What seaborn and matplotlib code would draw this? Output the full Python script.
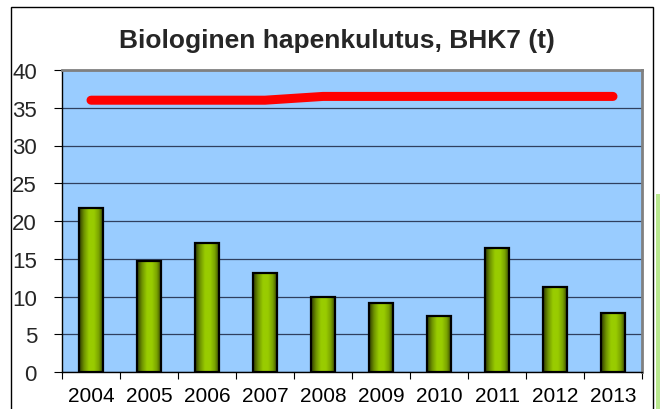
import matplotlib
matplotlib.use('Agg')
import matplotlib.pyplot as plt
import seaborn as sns
import numpy as np
import pandas as pd
from matplotlib.patches import Rectangle
from matplotlib.colors import LinearSegmentedColormap
from matplotlib.ticker import FixedLocator

# Data
years = ['2004', '2005', '2006', '2007', '2008', '2009', '2010', '2011', '2012', '2013']
bhk7 = [21.7, 14.7, 17.1, 13.1, 9.9, 9.2, 7.4, 16.4, 11.3, 7.8]
limit = [36.0, 36.0, 36.0, 36.0, 36.5, 36.5, 36.5, 36.5, 36.5, 36.5]
title = 'Biologinen hapenkulutus, BHK7 (t)'

df = pd.DataFrame({'year': years, 'bhk7': bhk7, 'limit': limit})

sns.set_style('white')
plt.rcParams['font.family'] = ['Liberation Sans', 'DejaVu Sans']

fig = plt.figure(figsize=(6.6, 4.1), dpi=100)
ax = fig.add_axes([62 / 660, 1 - 373 / 410, 580 / 660, 302 / 410])
ax.set_facecolor('#99ccff')

sns.barplot(data=df, x='year', y='bhk7', color='#99cc00', width=0.42,
            edgecolor='black', linewidth=1.6, ax=ax, zorder=3)

# shaded green fill for the bars
cmap = LinearSegmentedColormap.from_list(
    'barshade', ['#2e3a00', '#6f9400', '#99cc00', '#99cc00', '#7aa300', '#2e3a00'])
grad = np.linspace(0, 1, 64).reshape(1, -1)
for p in ax.patches:
    x0, y0 = p.get_x(), p.get_y()
    w, h = p.get_width(), p.get_height()
    im = ax.imshow(grad, cmap=cmap, aspect='auto', extent=[x0, x0 + w, y0, y0 + h],
                   zorder=3.5, interpolation='bilinear')
    im.set_clip_path(p)
    p.set_facecolor('none')
    p.set_zorder(4)

sns.lineplot(data=df, x='year', y='limit', color='#ff0000', linewidth=6.5,
             solid_capstyle='round', sort=False, ax=ax, zorder=5)

ax.set_xlim(-0.5, len(years) - 0.5)
ax.set_ylim(0, 40)
ax.set_yticks(range(0, 41, 5))
ax.yaxis.grid(True, color='#2f3f5f', linewidth=0.9)
ax.set_axisbelow(True)

ax.set_xlabel('')
ax.set_ylabel('')
ax.xaxis.set_minor_locator(FixedLocator(np.arange(-0.5, len(years), 1.0)))
ax.tick_params(axis='x', which='major', length=0, pad=10, labelsize=15, colors='black')
ax.tick_params(axis='x', which='minor', bottom=True, length=5, width=0.8, color='black')
ax.tick_params(axis='y', left=True, length=6, width=0.8, pad=12, labelsize=16, color='black')

for side in ['left', 'bottom']:
    ax.spines[side].set_color('black')
    ax.spines[side].set_linewidth(1.0)
for side in ['top', 'right']:
    ax.spines[side].set_color('#808080')
    ax.spines[side].set_linewidth(2.0)

fig.text(337 / 660, 1 - 41 / 410, title, ha='center', va='center',
         fontsize=19, fontweight='bold')

# outer chart frame
fig.patches.append(Rectangle((11 / 660, -0.05), 642 / 660, 1.05 - 8 / 410,
                             transform=fig.transFigure, fill=False,
                             edgecolor='black', linewidth=1.0))
fig.patches.append(Rectangle((656 / 660, 0), 4 / 660, 215 / 410,
                             transform=fig.transFigure, facecolor='#b9e88f',
                             edgecolor='none'))

fig.savefig('out.png', dpi=100)
